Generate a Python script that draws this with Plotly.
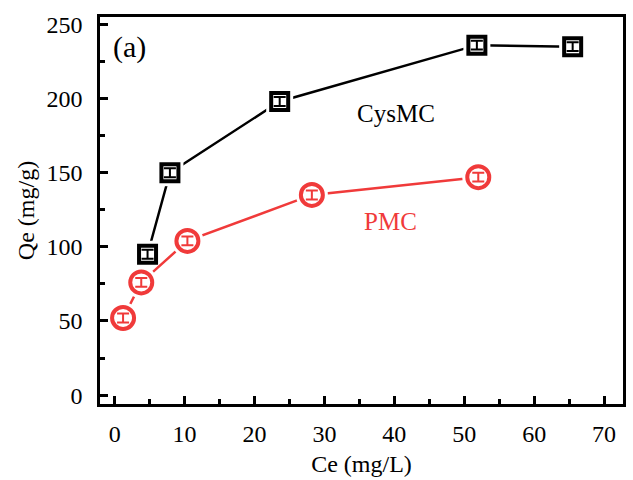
import plotly.graph_objects as go

# Data
cys_x = [4.7, 7.9, 23.6, 51.8, 65.5]
cys_y = [95, 150, 198, 236, 235]
cys_err = [3, 3, 3, 3, 3]
pmc_x = [1.2, 3.8, 10.4, 28.2, 52.0]
pmc_y = [52, 76, 104, 135, 147]
pmc_err = [3, 3, 3, 3, 3]

x_ticks = [0, 10, 20, 30, 40, 50, 60, 70]
y_ticks = [0, 50, 100, 150, 200, 250]

BLACK = "#000000"
RED = "#F03A3A"
FONT = "Liberation Serif"

fig = go.Figure()

def add_series(x, y, err, color, symbol, size):
    fig.add_trace(go.Scatter(x=x, y=y, mode="lines",
                             line=dict(color=color, width=2.5), showlegend=False, hoverinfo="skip"))
    fig.add_trace(go.Scatter(x=x, y=y, mode="markers",
                             marker=dict(symbol=symbol, size=size + 10, color="white",
                                         line=dict(width=0)),
                             showlegend=False, hoverinfo="skip"))
    fig.add_trace(go.Scatter(x=x, y=y, mode="markers",
                             marker=dict(symbol=symbol, size=size, color="white",
                                         line=dict(color=color, width=4)),
                             showlegend=False))
    fig.add_trace(go.Scatter(x=x, y=y, mode="markers",
                             marker=dict(size=1, color=color),
                             error_y=dict(type="data", array=err, visible=True,
                                          color=color, thickness=2, width=6),
                             showlegend=False, hoverinfo="skip"))

add_series(cys_x, cys_y, cys_err, BLACK, "square", 17)
add_series(pmc_x, pmc_y, pmc_err, RED, "circle", 22)

axis_common = dict(showline=True, linecolor="black", linewidth=2.5, mirror=True,
                   ticks="inside", ticklen=8, tickwidth=2.5, tickcolor="black",
                   showgrid=False, zeroline=False,
                   tickfont=dict(family=FONT, size=24, color="black"))

fig.update_xaxes(range=[-2.1, 72.7], tickvals=x_ticks, ticklabelstandoff=6,
                 minor=dict(ticks="inside", ticklen=5, tickwidth=2.5, dtick=5, tick0=0, tickcolor="black"),
                 title=dict(text="Ce (mg/L)", font=dict(family=FONT, size=24, color="black"), standoff=10),
                 **axis_common)
fig.update_yaxes(range=[-6, 255], tickvals=y_ticks, ticklabelstandoff=10,
                 minor=dict(ticks="inside", ticklen=5, tickwidth=2.5, dtick=25, tick0=0, tickcolor="black"),
                 title=dict(text="Qe (mg/g)", font=dict(family=FONT, size=24, color="black"), standoff=6),
                 **axis_common)

fig.add_annotation(x=(130 - 100) / (633 - 107), y=1 - (47 - 17) / (480 - 91),
                   xref="paper", yref="paper", text="(a)", showarrow=False,
                   xanchor="center", yanchor="middle",
                   font=dict(family=FONT, size=30, color="black"))
fig.add_annotation(x=40.3, y=190, text="CysMC", showarrow=False,
                   xanchor="center", yanchor="middle",
                   font=dict(family=FONT, size=25, color="black"))
fig.add_annotation(x=39.5, y=117, text="PMC", showarrow=False,
                   xanchor="center", yanchor="middle",
                   font=dict(family=FONT, size=25, color=RED))

fig.update_layout(width=633, height=480, margin=dict(l=100, r=7, t=17, b=74),
                  plot_bgcolor="white", paper_bgcolor="white")

fig.write_html("out.html")
